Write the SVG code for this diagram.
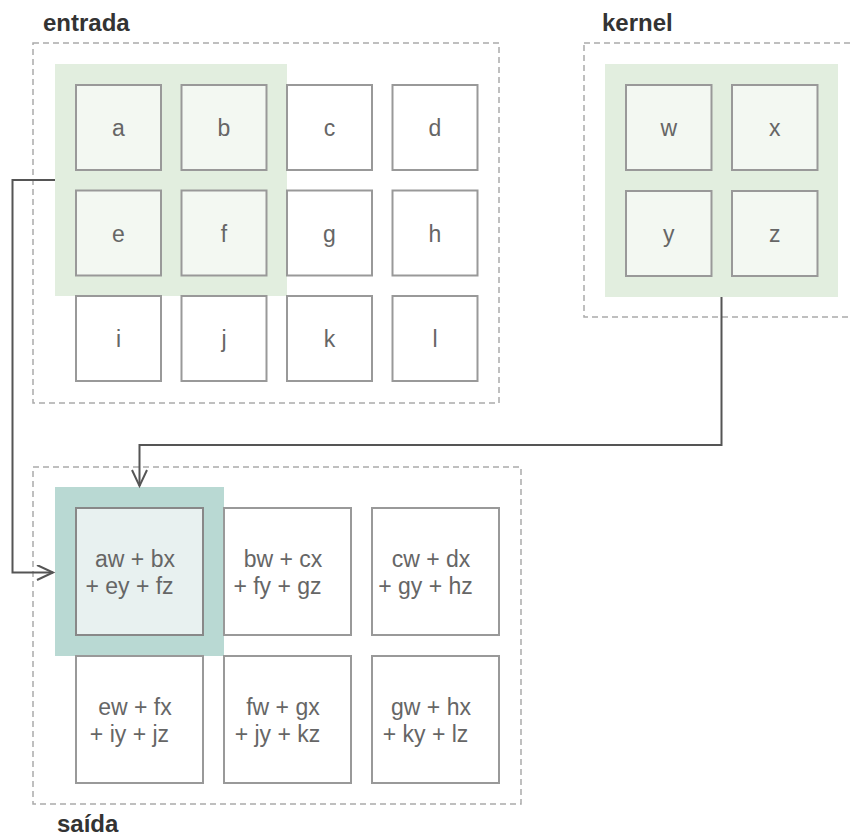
<svg xmlns="http://www.w3.org/2000/svg" width="851" height="837" viewBox="0 0 851 837">
<defs>
<style>
.lbl{font-family:"Liberation Sans",Arial,sans-serif;font-weight:bold;font-size:24px;fill:#333}
.t{font-family:"Liberation Sans",Arial,sans-serif;font-size:23px;fill:#666;text-anchor:middle}
.dash{fill:none;stroke:#aaa;stroke-width:1.5;stroke-dasharray:6 4}
.cell{fill:#fff;stroke:#999;stroke-width:2}
.hcell{fill:#f3f8f2;stroke:#999;stroke-width:2}
.ocell{fill:#e8f1f0;stroke:#888;stroke-width:2}
.conn{fill:none;stroke:#555;stroke-width:2}
</style>
<marker id="arr" markerWidth="20" markerHeight="20" refX="17" refY="8" orient="auto" markerUnits="userSpaceOnUse">
<path d="M1,0.5 L17,8 L1,15.5" fill="none" stroke="#555" stroke-width="2"/>
</marker>
</defs>
<rect width="851" height="837" fill="#fff"/>

<g id="entrada">
<rect class="dash" x="33" y="43" width="466" height="360"/>
<text class="lbl" x="43" y="31">entrada</text>
<rect x="55" y="64" width="232" height="232" fill="#e2eedf"/>
<g id="in-a"><rect class="hcell" x="76" y="85" width="85" height="85"/><text class="t" x="118.5" y="136">a</text></g>
<g id="in-b"><rect class="hcell" x="181.5" y="85" width="85" height="85"/><text class="t" x="224" y="136">b</text></g>
<g id="in-c"><rect class="cell" x="287" y="85" width="85" height="85"/><text class="t" x="329.5" y="136">c</text></g>
<g id="in-d"><rect class="cell" x="392.5" y="85" width="85" height="85"/><text class="t" x="435" y="136">d</text></g>
<g id="in-e"><rect class="hcell" x="76" y="190.5" width="85" height="85"/><text class="t" x="118.5" y="241.5">e</text></g>
<g id="in-f"><rect class="hcell" x="181.5" y="190.5" width="85" height="85"/><text class="t" x="224" y="241.5">f</text></g>
<g id="in-g"><rect class="cell" x="287" y="190.5" width="85" height="85"/><text class="t" x="329.5" y="241.5">g</text></g>
<g id="in-h"><rect class="cell" x="392.5" y="190.5" width="85" height="85"/><text class="t" x="435" y="241.5">h</text></g>
<g id="in-i"><rect class="cell" x="76" y="296" width="85" height="85"/><text class="t" x="118.5" y="347">i</text></g>
<g id="in-j"><rect class="cell" x="181.5" y="296" width="85" height="85"/><text class="t" x="224" y="347">j</text></g>
<g id="in-k"><rect class="cell" x="287" y="296" width="85" height="85"/><text class="t" x="329.5" y="347">k</text></g>
<g id="in-l"><rect class="cell" x="392.5" y="296" width="85" height="85"/><text class="t" x="435" y="347">l</text></g>
</g>

<g id="kernel">
<rect class="dash" x="584" y="43" width="290" height="274"/>
<text class="lbl" x="602" y="31">kernel</text>
<rect x="605" y="64" width="233" height="233" fill="#e2eedf"/>
<g id="k-w"><rect class="hcell" x="626" y="85" width="85.5" height="85"/><text class="t" x="668.7" y="136">w</text></g>
<g id="k-x"><rect class="hcell" x="732" y="85" width="85.5" height="85"/><text class="t" x="774.7" y="136">x</text></g>
<g id="k-y"><rect class="hcell" x="626" y="191" width="85.5" height="85"/><text class="t" x="668.7" y="242">y</text></g>
<g id="k-z"><rect class="hcell" x="732" y="191" width="85.5" height="85"/><text class="t" x="774.7" y="242">z</text></g>
</g>

<g id="saida">
<rect class="dash" x="33" y="467" width="488" height="337"/>
<text class="lbl" x="57" y="832">saída</text>
<rect x="55" y="487" width="169" height="169" fill="#b9d9d3"/>
<g id="out-1"><rect class="ocell" x="76" y="508" width="127" height="127"/><text class="t" x="135" y="566.5">aw + bx</text><text class="t" x="129.5" y="593.5">+ ey + fz</text></g>
<g id="out-2"><rect class="cell" x="224" y="508" width="127" height="127"/><text class="t" x="283" y="566.5">bw + cx</text><text class="t" x="277.5" y="593.5">+ fy + gz</text></g>
<g id="out-3"><rect class="cell" x="372" y="508" width="127" height="127"/><text class="t" x="431" y="566.5">cw + dx</text><text class="t" x="425.5" y="593.5">+ gy + hz</text></g>
<g id="out-4"><rect class="cell" x="76" y="656" width="127" height="127"/><text class="t" x="135" y="714.5">ew + fx</text><text class="t" x="129.5" y="741.5">+ iy + jz</text></g>
<g id="out-5"><rect class="cell" x="224" y="656" width="127" height="127"/><text class="t" x="283" y="714.5">fw + gx</text><text class="t" x="277.5" y="741.5">+ jy + kz</text></g>
<g id="out-6"><rect class="cell" x="372" y="656" width="127" height="127"/><text class="t" x="431" y="714.5">gw + hx</text><text class="t" x="425.5" y="741.5">+ ky + lz</text></g>
</g>

<g id="connectors">
<path class="conn" d="M55,180 H12.5 V572.5 H53" marker-end="url(#arr)"/>
<path class="conn" d="M721.5,297 V445 H139.5 V486" marker-end="url(#arr)"/>
</g>
</svg>
